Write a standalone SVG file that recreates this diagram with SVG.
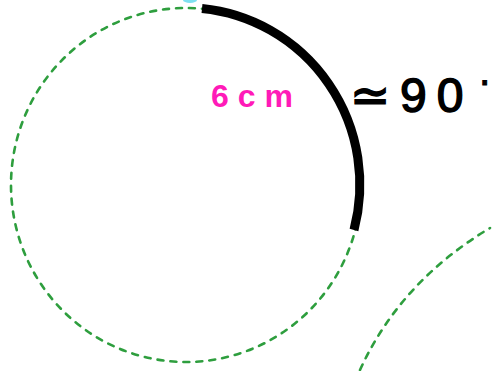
<svg xmlns="http://www.w3.org/2000/svg" width="494" height="371" viewBox="0 0 494 371">
<style>
.dash{fill:none;stroke:#2e9e3e;stroke-width:2.6;stroke-dasharray:6 7;stroke-linecap:round}
.hand{font-family:"Liberation Sans",Arial,sans-serif}
</style>
<rect width="494" height="371" fill="#ffffff"/>
<g id="circle">
<ellipse class="dash" cx="186" cy="185" rx="175" ry="177"/>
</g>
<g id="arc">
<path d="M 202 8.5 A 175 177 0 0 1 354 230" fill="none" stroke="#000" stroke-width="9"/>
</g>
<g id="outer-arc">
<path class="dash" d="M 360 370 Q 400 282 490 228"/>
</g>
<ellipse cx="190" cy="0" rx="7" ry="3" fill="#7fe0f0"/>
<g id="label-6cm">
<text class="hand" x="211" y="107" font-size="32" font-weight="bold" fill="#ff1ab8" letter-spacing="9">6cm</text>
</g>
<g id="label-90">
<text class="hand" x="350" y="112" font-size="48" fill="#000" stroke="#000" stroke-width="1.5" letter-spacing="10">≃90</text>
<text class="hand" x="478" y="94" font-size="40" fill="#000" stroke="#000" stroke-width="1">·</text>
</g>
</svg>
